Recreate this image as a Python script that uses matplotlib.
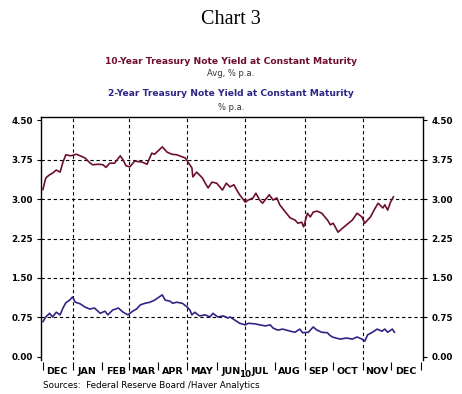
import numpy as np
import pandas as pd
import matplotlib
matplotlib.use("Agg")
import matplotlib.pyplot as plt
import matplotlib.dates as mdates

# --- datos (rendimientos diarios aprox., % anual) ---
fechas_10y = ["2009-12-01", "2009-12-04", "2009-12-08", "2009-12-11", "2009-12-15", "2009-12-19",
              "2009-12-22", "2009-12-25", "2009-12-30", "2010-01-05", "2010-01-09", "2010-01-14",
              "2010-01-19", "2010-01-22", "2010-01-28", "2010-02-02", "2010-02-05", "2010-02-09",
              "2010-02-14", "2010-02-20", "2010-02-23", "2010-02-26", "2010-03-02", "2010-03-07",
              "2010-03-15", "2010-03-20", "2010-03-25", "2010-03-28", "2010-04-05", "2010-04-10",
              "2010-04-15", "2010-04-20", "2010-04-26", "2010-04-29", "2010-05-02", "2010-05-06",
              "2010-05-07", "2010-05-11", "2010-05-17", "2010-05-20", "2010-05-23", "2010-05-27",
              "2010-06-01", "2010-06-07", "2010-06-11", "2010-06-15", "2010-06-19", "2010-06-22",
              "2010-06-25", "2010-07-01", "2010-07-04", "2010-07-09", "2010-07-12", "2010-07-16",
              "2010-07-19", "2010-07-26", "2010-07-30", "2010-08-03", "2010-08-06", "2010-08-12",
              "2010-08-17", "2010-08-22", "2010-08-25", "2010-08-29", "2010-08-31", "2010-09-04",
              "2010-09-07", "2010-09-10", "2010-09-14", "2010-09-19", "2010-09-25", "2010-09-28",
              "2010-10-01", "2010-10-06", "2010-10-11", "2010-10-17", "2010-10-21", "2010-10-26",
              "2010-10-31", "2010-11-03", "2010-11-09", "2010-11-14", "2010-11-17", "2010-11-22",
              "2010-11-24", "2010-11-27", "2010-11-30", "2010-12-03"]
valores_10y = [3.18, 3.40, 3.46, 3.49, 3.55, 3.51,
               3.70, 3.84, 3.82, 3.85, 3.82, 3.78,
               3.69, 3.65, 3.66, 3.65, 3.60, 3.68,
               3.68, 3.82, 3.74, 3.63, 3.61, 3.72,
               3.70, 3.66, 3.87, 3.85, 3.99, 3.89,
               3.85, 3.84, 3.80, 3.78, 3.70, 3.59,
               3.42, 3.51, 3.40, 3.30, 3.21, 3.32,
               3.30, 3.17, 3.30, 3.23, 3.27, 3.17,
               3.08, 2.94, 2.98, 3.02, 3.11, 2.98,
               2.92, 3.08, 2.98, 3.02, 2.89, 2.75,
               2.64, 2.60, 2.54, 2.56, 2.47, 2.73,
               2.66, 2.75, 2.77, 2.73, 2.60, 2.51,
               2.54, 2.37, 2.45, 2.54, 2.60, 2.73,
               2.66, 2.54, 2.66, 2.83, 2.92, 2.83,
               2.89, 2.79, 2.94, 3.04]

fechas_2y = ["2009-12-01", "2009-12-04", "2009-12-08", "2009-12-11", "2009-12-15", "2009-12-19",
             "2009-12-22", "2009-12-25", "2009-12-29", "2010-01-01", "2010-01-04", "2010-01-09",
             "2010-01-14", "2010-01-19", "2010-01-24", "2010-01-30", "2010-02-04", "2010-02-07",
             "2010-02-12", "2010-02-18", "2010-02-23", "2010-02-28", "2010-03-05", "2010-03-09",
             "2010-03-13", "2010-03-18", "2010-03-23", "2010-03-28", "2010-04-05", "2010-04-08",
             "2010-04-13", "2010-04-16", "2010-04-20", "2010-04-26", "2010-05-01", "2010-05-04",
             "2010-05-06", "2010-05-09", "2010-05-14", "2010-05-20", "2010-05-25", "2010-05-28",
             "2010-06-02", "2010-06-08", "2010-06-13", "2010-06-15", "2010-06-20", "2010-06-25",
             "2010-07-01", "2010-07-04", "2010-07-11", "2010-07-16", "2010-07-22", "2010-07-27",
             "2010-07-30", "2010-08-04", "2010-08-09", "2010-08-17", "2010-08-22", "2010-08-27",
             "2010-08-30", "2010-09-05", "2010-09-10", "2010-09-14", "2010-09-19", "2010-09-25",
             "2010-09-27", "2010-09-30", "2010-10-08", "2010-10-15", "2010-10-21", "2010-10-26",
             "2010-10-31", "2010-11-03", "2010-11-06", "2010-11-11", "2010-11-16", "2010-11-21",
             "2010-11-24", "2010-11-27", "2010-12-02", "2010-12-04"]
valores_2y = [0.67, 0.76, 0.83, 0.76, 0.85, 0.80,
              0.93, 1.03, 1.08, 1.14, 1.04, 1.01,
              0.95, 0.91, 0.93, 0.83, 0.87, 0.80,
              0.89, 0.93, 0.85, 0.80, 0.87, 0.91,
              0.99, 1.02, 1.04, 1.08, 1.18, 1.08,
              1.06, 1.02, 1.04, 1.02, 0.95, 0.89,
              0.80, 0.85, 0.78, 0.80, 0.76, 0.83,
              0.76, 0.78, 0.74, 0.76, 0.70, 0.64,
              0.61, 0.64, 0.63, 0.61, 0.59, 0.61,
              0.55, 0.51, 0.53, 0.49, 0.47, 0.53,
              0.46, 0.47, 0.57, 0.51, 0.47, 0.46,
              0.42, 0.38, 0.34, 0.36, 0.34, 0.38,
              0.34, 0.30, 0.42, 0.47, 0.53, 0.49,
              0.53, 0.47, 0.53, 0.47]

yticks = [0.00, 0.75, 1.50, 2.25, 3.00, 3.75, 4.50]
meses = ["DEC", "JAN", "FEB", "MAR", "APR", "MAY", "JUN",
         "JUL", "AUG", "SEP", "OCT", "NOV", "DEC"]

color_10y = "#6E0E30"
color_2y = "#2E2585"
fuente = "DejaVu Sans"

t10 = pd.to_datetime(fechas_10y)
t2 = pd.to_datetime(fechas_2y)

fig = plt.figure(figsize=(4.62, 3.94), dpi=100)
ax = fig.add_axes([41 / 462, 1 - 360 / 394, 382 / 462, 243 / 394])

ax.plot(t10, valores_10y, color=color_10y, linewidth=1.2, zorder=3)
ax.plot(t2, valores_2y, color=color_2y, linewidth=1.2, zorder=3)

ax.set_xlim(pd.Timestamp("2009-11-29"), pd.Timestamp("2011-01-03"))
ax.set_ylim(-0.057, 4.557)

# rejilla discontinua
for y in yticks[1:-1]:
    ax.axhline(y, color="black", linestyle=(0, (3, 2.5)), linewidth=0.8, zorder=1)
for f in ["2010-01-01", "2010-03-01", "2010-05-01", "2010-07-01", "2010-09-01", "2010-11-01"]:
    ax.axvline(pd.Timestamp(f), color="black", linestyle=(0, (3, 2.5)), linewidth=0.8, zorder=1)

# eje Y a ambos lados
ax.set_yticks(yticks)
ax.set_yticklabels([f"{v:.2f}" for v in yticks])
ax.tick_params(axis="y", which="both", left=True, right=True, labelleft=True, labelright=True,
               direction="out", length=3, width=0.8, pad=3, labelsize=6.3)
for lab in ax.get_yticklabels():
    lab.set_fontweight("bold")
    lab.set_fontfamily(fuente)

# eje X: marcas mensuales y etiquetas a mitad de mes
ax.spines["bottom"].set_position(("outward", 1.5))
ax.spines["bottom"].set_visible(False)
for s in ["left", "right", "top"]:
    ax.spines[s].set_linewidth(1.0)
ax.xaxis.set_major_locator(mdates.MonthLocator())
ax.xaxis.set_major_formatter(plt.NullFormatter())
ax.tick_params(axis="x", which="major", direction="out", length=6, width=0.8)
ax.tick_params(axis="x", which="minor", length=0, pad=3.5, labelsize=6.8)
centros = [pd.Timestamp(2009, 12, 16) + pd.DateOffset(months=i) for i in range(len(meses))]
ax.set_xticks(centros, minor=True)
ax.set_xticklabels(meses, minor=True, fontweight="bold", fontfamily=fuente)

ax.text(pd.Timestamp("2010-07-01"), -0.33, "10", ha="center", va="center",
        fontsize=6.3, fontweight="bold", fontfamily=fuente)

# títulos
fig.text(231 / 462, 1 - 20 / 394, "Chart 3", ha="center", va="center",
         fontsize=14.5, fontfamily="Liberation Serif")
fig.text(231 / 462, 1 - 61 / 394, "10-Year Treasury Note Yield at Constant Maturity",
         ha="center", va="center", fontsize=6.6, fontweight="bold", color=color_10y, fontfamily=fuente)
fig.text(231 / 462, 1 - 73 / 394, "Avg, % p.a.", ha="center", va="center",
         fontsize=6, color="#333333", fontfamily=fuente)
fig.text(231 / 462, 1 - 94 / 394, "2-Year Treasury Note Yield at Constant Maturity",
         ha="center", va="center", fontsize=6.6, fontweight="bold", color=color_2y, fontfamily=fuente)
fig.text(231 / 462, 1 - 107 / 394, "% p.a.", ha="center", va="center",
         fontsize=6, color="#333333", fontfamily=fuente)
fig.text(43 / 462, 1 - 386 / 394, "Sources:  Federal Reserve Board /Haver Analytics",
         ha="left", va="center", fontsize=6.3, fontfamily=fuente)

fig.savefig("out.png", dpi=100)
